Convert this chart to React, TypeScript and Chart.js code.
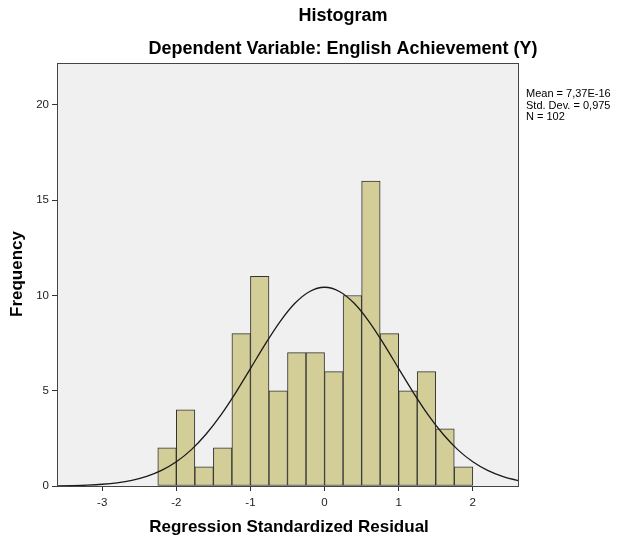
import React, { useEffect, useRef } from "react";
import { Chart, registerables } from "chart.js";

Chart.register(...registerables);

// Histogram bins (lower edges) and frequencies
const binLower = [-2.25, -2.0, -1.75, -1.5, -1.25, -1.0, -0.75, -0.5, -0.25, 0.0, 0.25, 0.5, 0.75, 1.0, 1.25, 1.5, 1.75];
const binWidth = 0.25;
const frequencies = [2, 4, 1, 2, 8, 11, 5, 7, 7, 6, 10, 16, 8, 5, 6, 3, 1];

// Normal curve
const curveX = [-3.7, -3.6, -3.4, -3.2, -3.0, -2.8, -2.6, -2.4, -2.2, -2.0, -1.8, -1.6, -1.4, -1.2, -1.0, -0.8, -0.6, -0.4, -0.2, 0.0, 0.2, 0.4, 0.6, 0.8, 1.0, 1.2, 1.4, 1.6, 1.8, 2.0, 2.2, 2.4, 2.6, 2.7];
const curveY = [0.008, 0.011, 0.024, 0.048, 0.092, 0.169, 0.298, 0.504, 0.818, 1.272, 1.897, 2.714, 3.721, 4.891, 6.164, 7.449, 8.631, 9.589, 10.21, 10.43, 10.21, 9.589, 8.631, 7.449, 6.164, 4.891, 3.721, 2.714, 1.897, 1.272, 0.818, 0.504, 0.298, 0.226];

const xTicks = [-3, -2, -1, 0, 1, 2];
const yTicks = [0, 5, 10, 15, 20];

const chartTitle = "Histogram";
const chartSubtitle = "Dependent Variable: English Achievement (Y)";
const xTitle = "Regression Standardized Residual";
const yTitle = "Frequency";
const statsLines = ["Mean = 7,37E-16", "Std. Dev. = 0,975", "N = 102"];

const FONT = "'Liberation Sans', Arial, sans-serif";

export default function App() {
  const ref = useRef<HTMLCanvasElement | null>(null);

  useEffect(() => {
    if (!ref.current) return;
    const decor = {
      id: "decor",
      beforeDraw(chart: any) {
        const { ctx, chartArea } = chart;
        ctx.save();
        ctx.fillStyle = "#f0f0f0";
        ctx.fillRect(chartArea.left, chartArea.top, chartArea.right - chartArea.left, chartArea.bottom - chartArea.top);
        ctx.restore();
      },
      afterDraw(chart: any) {
        const { ctx, chartArea } = chart;
        ctx.save();
        ctx.strokeStyle = "#444";
        ctx.lineWidth = 1;
        ctx.strokeRect(chartArea.left + 0.5, chartArea.top + 0.5, chartArea.right - chartArea.left, chartArea.bottom - chartArea.top);
        ctx.fillStyle = "#000";
        ctx.textAlign = "center";
        ctx.textBaseline = "middle";
        ctx.font = `bold 18px ${FONT}`;
        ctx.fillText(chartTitle, 343, 16);
        ctx.fillText(chartSubtitle, 343, 49);
        ctx.font = `bold 17px ${FONT}`;
        ctx.fillText(xTitle, 289, 527);
        ctx.save();
        ctx.translate(17, 274);
        ctx.rotate(-Math.PI / 2);
        ctx.fillText(yTitle, 0, 0);
        ctx.restore();
        ctx.textAlign = "left";
        ctx.font = `11px ${FONT}`;
        statsLines.forEach((s, i) => ctx.fillText(s, 526, 94 + i * 11.5));
        ctx.restore();
      },
    };

    const chart = new Chart(ref.current, {
      type: "bar",
      data: {
        datasets: [
          {
            type: "line",
            data: curveX.map((x, i) => ({ x, y: curveY[i] })),
            borderColor: "#1a1a1a",
            borderWidth: 1.3,
            pointRadius: 0,
            tension: 0.4,
            cubicInterpolationMode: "monotone",
            fill: false,
            order: 0,
          } as any,
          {
            type: "bar",
            data: binLower.map((x, i) => ({ x: x + binWidth / 2, y: frequencies[i] })),
            backgroundColor: "#d3ce98",
            borderColor: "#333",
            borderWidth: 1,
            borderSkipped: false,
            barPercentage: 1,
            categoryPercentage: 1,
            order: 1,
          } as any,
        ],
      },
      options: {
        animation: false,
        responsive: false,
        maintainAspectRatio: false,
        layout: { padding: { left: 0, top: 63, right: 106, bottom: 0 } },
        plugins: { legend: { display: false }, tooltip: { enabled: false }, title: { display: false } },
        scales: {
          x: {
            type: "linear",
            min: -3.61,
            max: 2.61,
            offset: false,
            afterFit: (s: any) => { s.height = 56; },
            afterBuildTicks: (s: any) => { s.ticks = xTicks.map((v) => ({ value: v })); },
            ticks: { color: "#222", font: { size: 11.5, family: FONT }, padding: 5, maxRotation: 0, autoSkip: false },
            grid: { offset: false, drawOnChartArea: false, drawTicks: true, tickLength: 5, color: "#333" },
            border: { display: true, color: "#222" },
          },
          y: {
            type: "linear",
            min: 0,
            max: 22.2,
            afterFit: (s: any) => { s.width = 57; },
            afterBuildTicks: (s: any) => { s.ticks = yTicks.map((v) => ({ value: v })); },
            ticks: { color: "#222", font: { size: 11.5, family: FONT }, padding: 3, autoSkip: false },
            grid: { offset: false, drawOnChartArea: false, drawTicks: true, tickLength: 5, color: "#333" },
            border: { display: true, color: "#222" },
          },
        },
      } as any,
      plugins: [decor],
    });
    return () => chart.destroy();
  }, []);

  return (
    <div style={{ position: "fixed", left: 0, top: 0, width: 624, height: 542, background: "#fff" }}>
      <canvas ref={ref} width={624} height={542} style={{ width: 624, height: 542, display: "block" }} />
    </div>
  );
}
